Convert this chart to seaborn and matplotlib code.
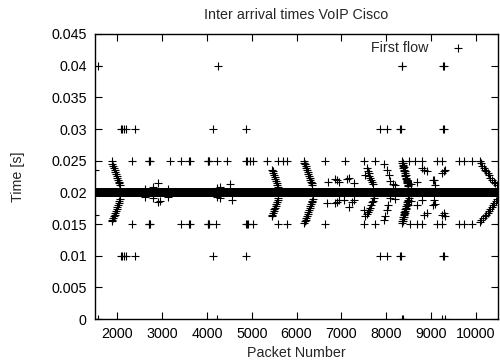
import matplotlib
matplotlib.use("Agg")
import matplotlib.pyplot as plt
import numpy as np
import pandas as pd
import seaborn as sns

# ---------------- data ----------------
title = "Inter arrival times VoIP Cisco"
x_label = "Packet Number"
y_label = "Time [s]"
series_name = "First flow"

# dense run of packets at the nominal 20 ms spacing
band_first_packet = 1500
band_last_packet = 10500
band_time = 0.02

# isolated packets on fixed levels
pk_040 = [1570, 4240, 8350, 8365, 9270, 9300]
pk_030 = [2080, 2110, 2140, 2200, 2390, 4140, 4870, 7870, 8020, 8310, 8330, 9280, 9295]
pk_025 = [2320, 2700, 2714, 2730, 3176, 3415, 3595, 3620, 4015, 4032, 4045, 4220,
          4457, 4880, 4900, 4960, 5031, 5337, 5597, 5708, 5785, 6640, 7072, 7512,
          7758, 8502, 8652, 8802, 9137, 9249, 9620, 9731, 9919]
pk_015 = [2320, 2700, 2714, 2730, 3415, 3595, 3620, 4015, 4032, 4045, 4206, 4880,
          4900, 4920, 5031, 5597, 5785, 6640, 7497, 7758, 8540, 8680, 8802, 9137,
          9249, 9620, 9731, 9919]
pk_010 = [2080, 2110, 2140, 2200, 2390, 4140, 4870, 7870, 8020, 8310, 8330, 9280, 9295]
pk_000 = [1570, 4235, 8360, 8370, 9260, 9320]
pk_edge = [1510, 1510]
t_edge = [0.0235, 0.0165]

# drifting arcs (upper and lower branches)
arc1_x = [1873, 1890, 1905, 1920, 1940, 1955, 1970, 1985, 2000, 2015, 2030, 2045, 2060,
          2060, 2045, 2030, 2015, 2000, 1985, 1970, 1955, 1940, 1920, 1905, 1890, 1873]
arc1_t = [0.0249, 0.0245, 0.0242, 0.0239, 0.0235, 0.0232, 0.0229, 0.0226, 0.0223, 0.0220, 0.0217, 0.0214, 0.0211,
          0.0190, 0.0186, 0.0183, 0.0180, 0.0177, 0.0174, 0.0171, 0.0168, 0.0165, 0.0162, 0.0159, 0.0157, 0.0155]

arc2_x = [5450, 5465, 5480, 5495, 5510, 5525, 5540, 5555, 5570, 5590,
          5595, 5580, 5565, 5550, 5535, 5520, 5505, 5490, 5475, 5460, 5450]
arc2_t = [0.0236, 0.0233, 0.0230, 0.0227, 0.0224, 0.0221, 0.0218, 0.0215, 0.0212, 0.0209,
          0.0191, 0.0188, 0.0185, 0.0182, 0.0179, 0.0176, 0.0173, 0.0170, 0.0167, 0.0164, 0.0162]

arc3_x = [6160, 6175, 6190, 6205, 6220, 6235, 6250, 6265, 6280, 6295, 6310, 6325, 6340, 6355,
          6370, 6355, 6340, 6325, 6310, 6295, 6280, 6265, 6250, 6235, 6220, 6205, 6185, 6165]
arc3_t = [0.0250, 0.0247, 0.0244, 0.0241, 0.0238, 0.0235, 0.0232, 0.0229, 0.0226, 0.0223, 0.0220, 0.0217, 0.0214, 0.0211,
          0.0190, 0.0187, 0.0184, 0.0181, 0.0178, 0.0175, 0.0172, 0.0169, 0.0166, 0.0163, 0.0160, 0.0157, 0.0154, 0.0151]

arc4_x = [7534, 7572, 7590, 7610, 7630, 7650, 7670, 7690, 7710,
          7721, 7700, 7680, 7660, 7646, 7620, 7600, 7570, 7534, 7497]
arc4_t = [0.0227, 0.0238, 0.0234, 0.0230, 0.0226, 0.0222, 0.0219, 0.0216, 0.0213,
          0.0191, 0.0187, 0.0184, 0.0180, 0.0176, 0.0172, 0.0169, 0.0166, 0.0162, 0.0172]

arc5_x = [7944, 8020, 8056, 8093, 8150, 8205, 8205, 8093, 8040, 8020, 7982, 7944]
arc5_t = [0.0245, 0.0236, 0.0228, 0.0218, 0.0213, 0.0211, 0.0189, 0.0191, 0.0180, 0.0172, 0.0162, 0.0156]

arc6_x = [8350, 8362, 8370, 8380, 8388, 8398, 8405, 8415, 8422, 8432, 8440, 8450, 8458, 8468, 8478, 8490, 8500,
          8372, 8395, 8420, 8445, 8470, 8495,
          8502, 8490, 8480, 8470, 8460, 8450, 8440, 8430, 8420, 8410, 8400, 8390, 8380, 8370, 8360, 8350,
          8505, 8480, 8455, 8430, 8405, 8380]
arc6_t = [0.0249, 0.0246, 0.0243, 0.0241, 0.0238, 0.0236, 0.0233, 0.0231, 0.0228, 0.0226, 0.0223, 0.0221, 0.0218, 0.0216, 0.0214, 0.0212, 0.0210,
          0.0247, 0.0240, 0.0234, 0.0227, 0.0220, 0.0214,
          0.0191, 0.0188, 0.0186, 0.0184, 0.0181, 0.0179, 0.0176, 0.0174, 0.0171, 0.0169, 0.0166, 0.0164, 0.0161, 0.0158, 0.0155, 0.0152,
          0.0186, 0.0180, 0.0173, 0.0167, 0.0161, 0.0155]

arc7_x = [10090, 10120, 10150, 10180, 10210, 10240, 10270, 10300, 10330, 10360, 10400, 10440, 10475,
          10480, 10450, 10420, 10390, 10360, 10330, 10300, 10270, 10240, 10200, 10160, 10120, 10100]
arc7_t = [0.0250, 0.0246, 0.0242, 0.0239, 0.0236, 0.0233, 0.0230, 0.0227, 0.0223, 0.0220, 0.0217, 0.0214, 0.0211,
          0.0190, 0.0186, 0.0183, 0.0180, 0.0177, 0.0174, 0.0171, 0.0168, 0.0165, 0.0162, 0.0159, 0.0156, 0.0153]

# scattered packets close to the 20 ms band
near_x = [2618, 2803, 2915, 3138, 2618, 2803, 2915, 2953, 3138,
          4220, 4294, 4517, 4220, 4294, 4555,
          6700, 6864, 6900, 6938, 7125, 7162, 7274,
          6680, 6864, 6900, 6938, 7050, 7162, 7237, 7274,
          8560, 8688, 8802, 8838, 8913, 9045,
          8560, 8688, 8802, 8838, 8913, 9045,
          9062, 9099, 9249, 9285, 9322,
          9062, 9099, 9249, 9285, 9322]
near_t = [0.0206, 0.0209, 0.0214, 0.0206, 0.0193, 0.0191, 0.0184, 0.0186, 0.0193,
          0.0207, 0.0209, 0.0213, 0.0193, 0.0191, 0.0188,
          0.0217, 0.0221, 0.0220, 0.0217, 0.0221, 0.0222, 0.0214,
          0.0183, 0.0183, 0.0185, 0.0188, 0.0188, 0.0177, 0.0185, 0.0188,
          0.0213, 0.0217, 0.0238, 0.0235, 0.0233, 0.0220,
          0.0187, 0.0180, 0.0188, 0.0164, 0.0167, 0.0180,
          0.0220, 0.0212, 0.0230, 0.0233, 0.0235,
          0.0188, 0.0182, 0.0164, 0.0168, 0.0162]

x_ticks = [2000, 3000, 4000, 5000, 6000, 7000, 8000, 9000, 10000]
y_ticks = [0, 0.005, 0.01, 0.015, 0.02, 0.025, 0.03, 0.035, 0.04, 0.045]
y_tick_labels = ["0", "0.005", "0.01", "0.015", "0.02", "0.025", "0.03", "0.035", "0.04", "0.045"]

# ---------------- assemble ----------------
band_packets = np.arange(band_first_packet, band_last_packet + 1)
parts_x = [band_packets]
parts_t = [np.full(len(band_packets), band_time)]
for level, pks in [(0.04, pk_040), (0.03, pk_030), (0.025, pk_025),
                   (0.015, pk_015), (0.01, pk_010), (0.0, pk_000)]:
    parts_x.append(np.asarray(pks, dtype=float))
    parts_t.append(np.full(len(pks), level))
for xs, ts in [(pk_edge, t_edge), (arc1_x, arc1_t), (arc2_x, arc2_t), (arc3_x, arc3_t),
               (arc4_x, arc4_t), (arc5_x, arc5_t), (arc6_x, arc6_t), (arc7_x, arc7_t),
               (near_x, near_t)]:
    parts_x.append(np.asarray(xs, dtype=float))
    parts_t.append(np.asarray(ts, dtype=float))

df = pd.DataFrame({"packet": np.concatenate(parts_x), "time": np.concatenate(parts_t)})

# ---------------- plot ----------------
sns.set_style("ticks")
plt.rcParams["font.family"] = ["Liberation Sans", "DejaVu Sans"]
fs = 10.3

fig = plt.figure(figsize=(5.0, 3.64), dpi=100)
ax = fig.add_axes([0.19, 0.1236, 0.806, 0.783])

sns.scatterplot(data=df, x="packet", y="time", marker="+", color="black",
                s=26, linewidth=0.8, ax=ax, label=series_name)

ax.set_xlim(1500, 10500)
ax.set_ylim(0, 0.045)
ax.set_xticks(x_ticks)
ax.set_xticklabels([str(v) for v in x_ticks])
ax.set_yticks(y_ticks)
ax.set_yticklabels(y_tick_labels)
ax.tick_params(direction="in", top=True, right=True, length=5, width=0.8,
               labelsize=fs, pad=6, colors="black")
for sp in ax.spines.values():
    sp.set_visible(True)
    sp.set_color("black")
    sp.set_linewidth(1.0)

ax.set_title(title, fontsize=fs, pad=11)
ax.set_xlabel(x_label, fontsize=fs, labelpad=3)
ax.set_ylabel(y_label, fontsize=fs, labelpad=19)

ax.legend(loc="upper right", bbox_to_anchor=(0.969, 1.02), frameon=False,
          markerfirst=False, fontsize=fs, handletextpad=1.07, handlelength=2.0,
          borderaxespad=0.5, scatterpoints=1)

fig.savefig("out.png", dpi=100)
